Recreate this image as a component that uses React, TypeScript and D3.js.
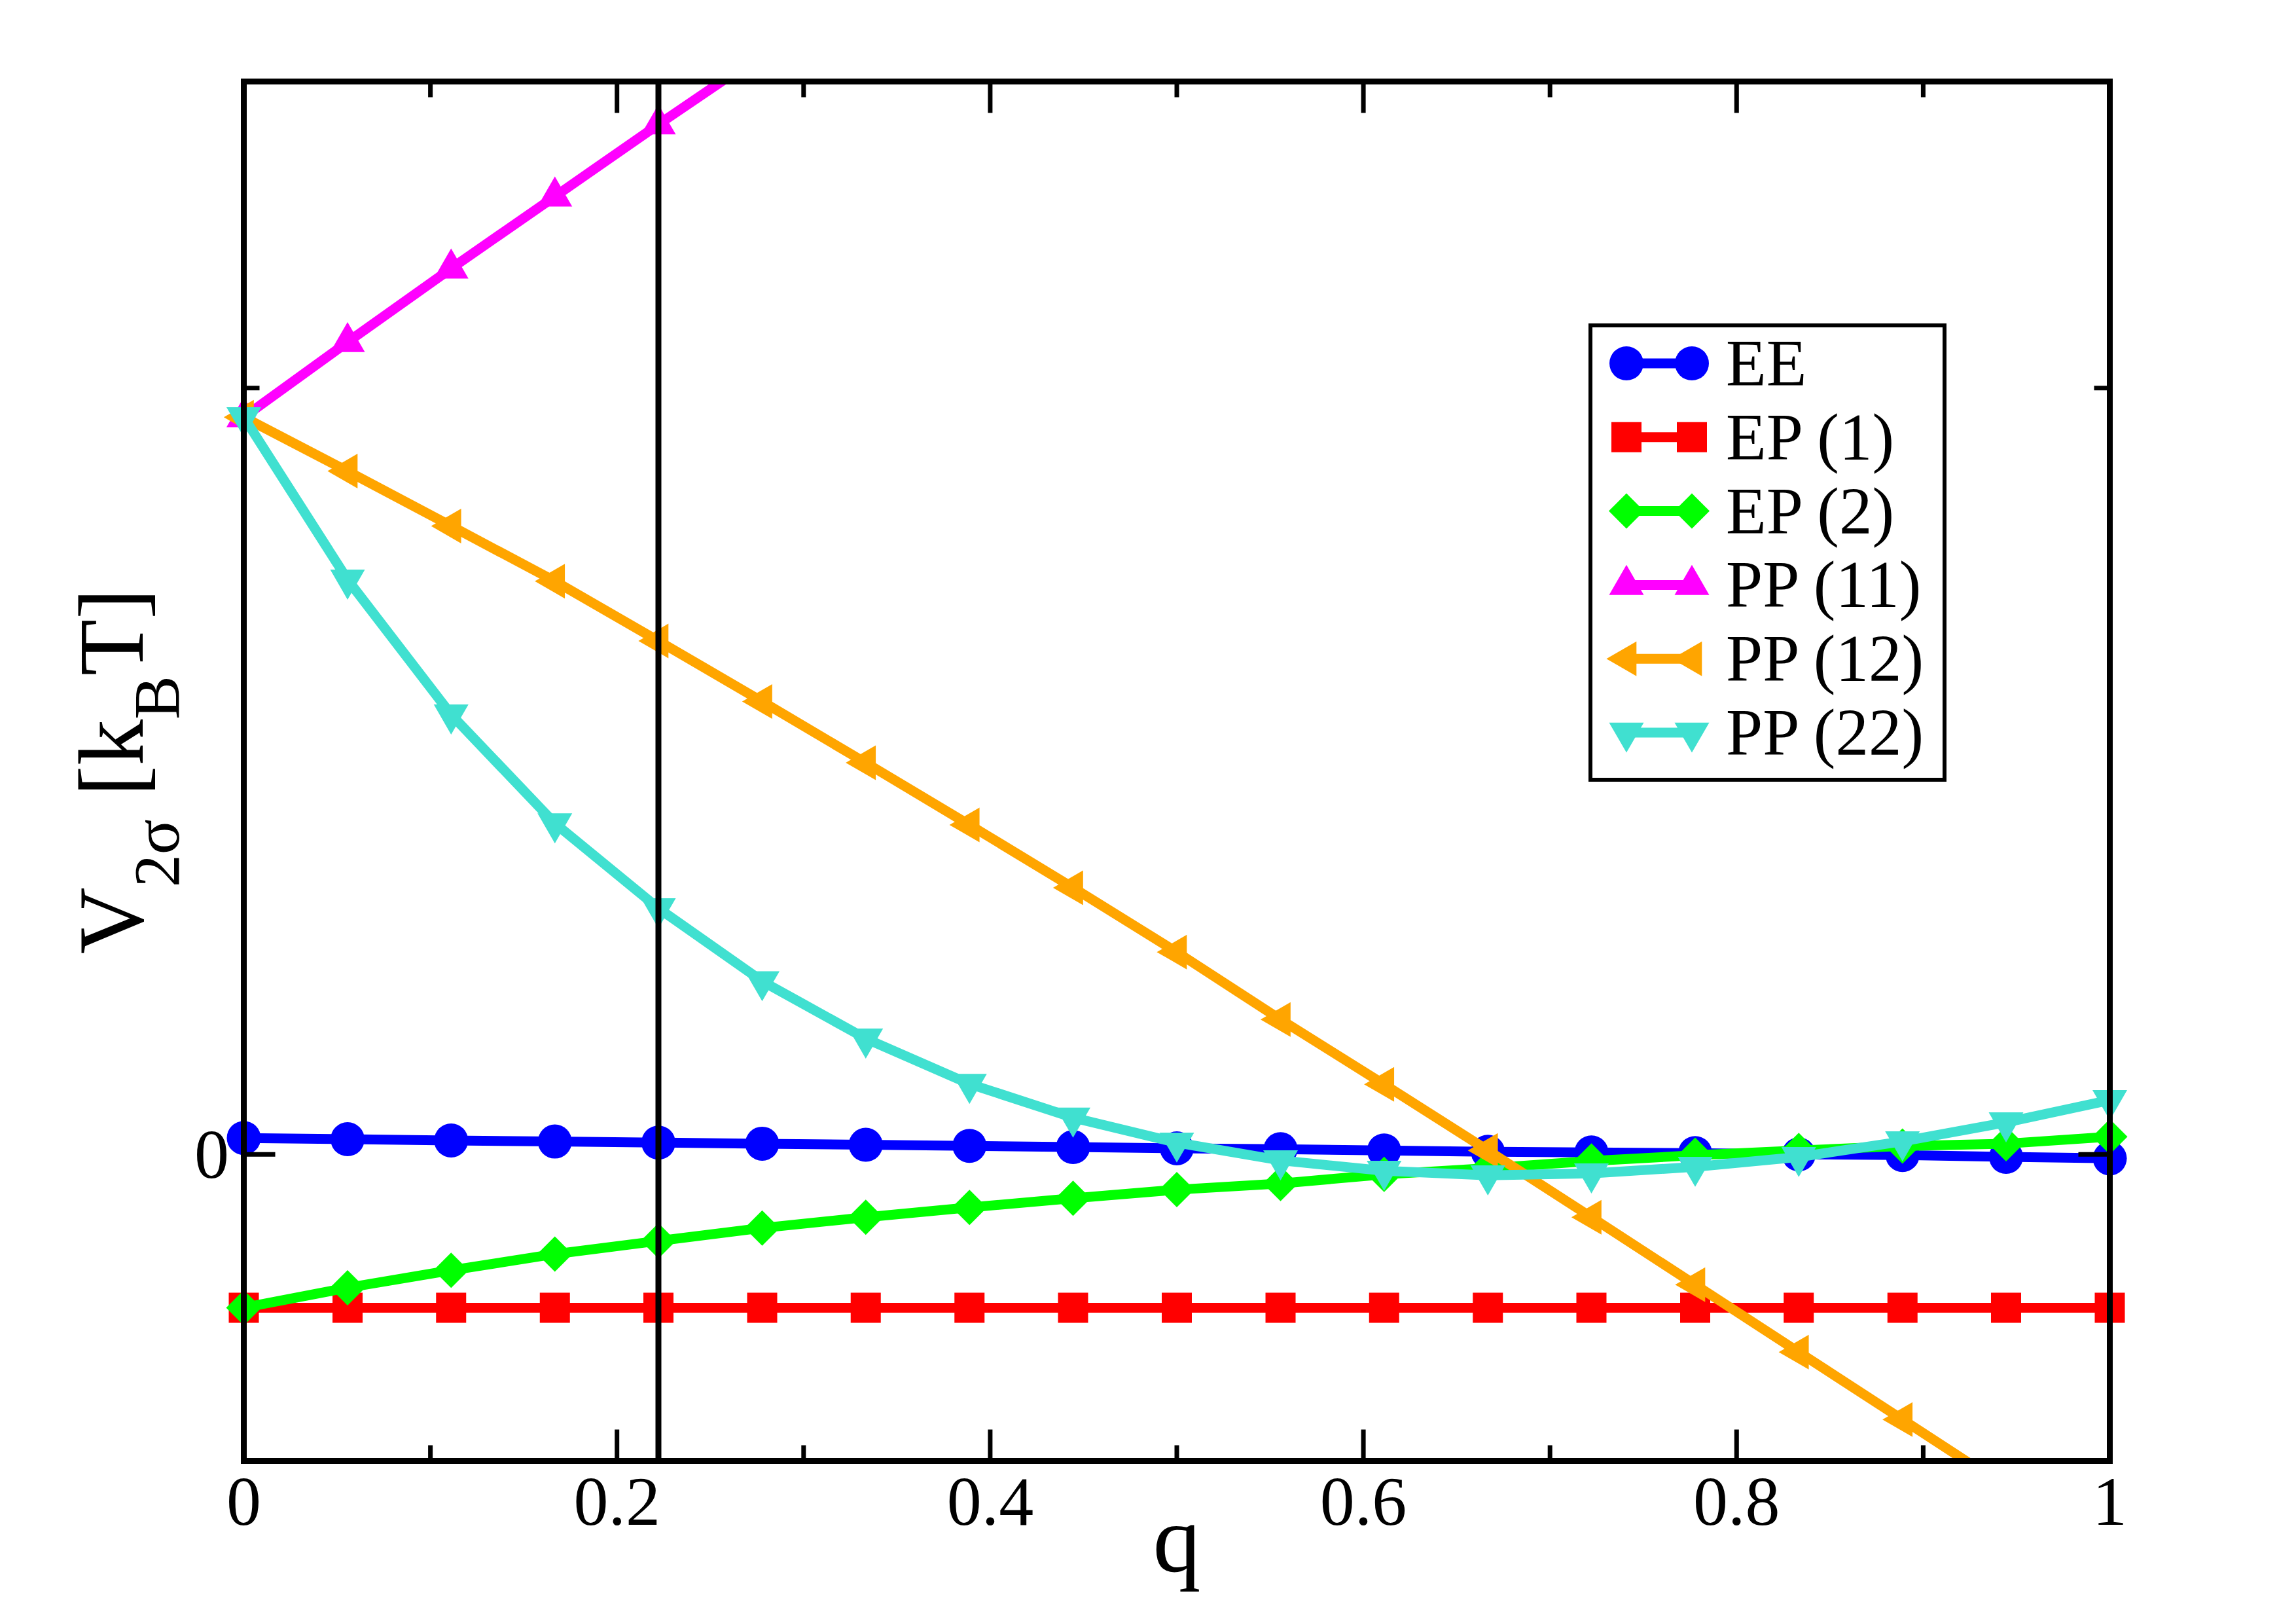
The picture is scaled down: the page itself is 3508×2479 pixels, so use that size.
import * as d3 from 'd3';

// q grid (k/18)
const qValues = [
  0, 0.0556, 0.1111, 0.1667, 0.2222, 0.2778, 0.3333, 0.3889, 0.4444, 0.5,
  0.5556, 0.6111, 0.6667, 0.7222, 0.7778, 0.8333, 0.8889, 0.9444, 1,
];

const eeValues = [
  0.0107, 0.0099, 0.0091, 0.0084, 0.0077, 0.007, 0.0063, 0.0056, 0.0048, 0.004,
  0.0034, 0.0026, 0.0017, 0.0013, 0.0009, 0.0, -0.0004, -0.0016, -0.0026,
];
const ep1Values = [
  -0.1, -0.1, -0.1, -0.1, -0.1, -0.1, -0.1, -0.1, -0.1, -0.1,
  -0.1, -0.1, -0.1, -0.1, -0.1, -0.1, -0.1, -0.1, -0.1,
];
const ep2Values = [
  -0.1, -0.087, -0.0756, -0.065, -0.0564, -0.048, -0.041, -0.0346, -0.0286, -0.023,
  -0.019, -0.013, -0.009, -0.0043, -0.0005, 0.0026, 0.0055, 0.007, 0.0115,
];
const pp11Values = [0.481, 0.53, 0.578, 0.625, 0.672, 0.718];
const pp12Values = [
  0.481, 0.4458, 0.41, 0.374, 0.335, 0.2955, 0.2555, 0.215, 0.174, 0.132,
  0.088, 0.0457, 0.0026, -0.041, -0.085, -0.129, -0.173, -0.217,
];
const pp22Values = [
  0.481, 0.375, 0.287, 0.216, 0.1606, 0.113, 0.0756, 0.046, 0.024, 0.0077,
  -0.0039, -0.0107, -0.0137, -0.0124, -0.0081, -0.0017, 0.0085, 0.0209, 0.0354,
];

const seriesNames = ['EE', 'EP (1)', 'EP (2)', 'PP (11)', 'PP (12)', 'PP (22)'];
const seriesColors = ['#0000ff', '#ff0000', '#00ff00', '#ff00ff', '#ffa500', '#40e0d0'];
const seriesSymbols = ['circle', 'square', 'diamond', 'up', 'left', 'down'];
const seriesValues = [eeValues, ep1Values, ep2Values, pp11Values, pp12Values, pp22Values];

const xMajorTicks = [0, 0.2, 0.4, 0.6, 0.8, 1];
const xTickLabels = ['0', '0.2', '0.4', '0.6', '0.8', '1'];
const xMinorTicks = [0.1, 0.3, 0.5, 0.7, 0.9];
const yMajorTicks = [0];
const yTickLabels = ['0'];
const yMinorTicks = [0.5];
const refLineQ = 0.2222;

const W = 3508;
const H = 2479;
const FONT = '"Liberation Serif", "Times New Roman", Times, serif';

const x = d3.scaleLinear().domain([0, 1]).range([372.5, 3223.5]);
const y = d3.scaleLinear().domain([-0.2, 0.7]).range([2231.5, 124.5]);

// marker shapes (centered on the data point)
function symbolPath(kind: string) {
  const side = 53;
  const r = side / Math.sqrt(3);
  switch (kind) {
    case 'circle':
      return 'M26,0A26,26 0 1,1 -26,0A26,26 0 1,1 26,0Z';
    case 'square':
      return 'M-23,-23H23V23H-23Z';
    case 'diamond':
      return 'M0,-27L27,0L0,27L-27,0Z';
    case 'up':
      return `M0,${-r}L${side / 2},${r / 2}L${-side / 2},${r / 2}Z`;
    case 'down':
      return `M0,${r}L${side / 2},${-r / 2}L${-side / 2},${-r / 2}Z`;
    case 'left':
      return `M${-r},0L${r / 2},${side / 2}L${r / 2},${-side / 2}Z`;
  }
  return '';
}

const line = d3.line<[number, number]>()
  .x(d => x(d[0]))
  .y(d => y(d[1]));

export default function App() {
  const [x0, x1] = x.range();
  const [yb, yt] = y.range();
  const [ymin, ymax] = y.domain();

  const legendTop = 555;
  const legendStep = 112.8;

  return (
    <svg
      width={W}
      height={H}
      viewBox={`0 0 ${W} ${H}`}
      style={{ position: 'absolute', left: 0, top: 0, background: '#fff', fontFamily: FONT }}
    >
      <rect x={0} y={0} width={W} height={H} fill="#fff" />
      <defs>
        <clipPath id="plot-clip">
          <rect x={x0} y={yt} width={x1 - x0} height={yb - yt} />
        </clipPath>
      </defs>

      {/* data sets: line then symbols */}
      {seriesValues.map((vals, si) => {
        const pts = vals.map((v, i) => [qValues[i], v] as [number, number]);
        return (
          <g key={seriesNames[si]}>
            <path
              d={line(pts) || ''}
              fill="none"
              stroke={seriesColors[si]}
              strokeWidth={15}
              strokeLinejoin="round"
              clipPath="url(#plot-clip)"
            />
            {pts
              .filter(p => p[1] >= ymin && p[1] <= ymax)
              .map((p, i) => (
                <path
                  key={i}
                  d={symbolPath(seriesSymbols[si])}
                  transform={`translate(${x(p[0])},${y(p[1])})`}
                  fill={seriesColors[si]}
                />
              ))}
          </g>
        );
      })}

      {/* vertical reference line */}
      <line x1={x(refLineQ)} x2={x(refLineQ)} y1={yt} y2={yb} stroke="#000" strokeWidth={9} />

      {/* ticks, all four sides, inward */}
      {xMajorTicks.map(t => (
        <g key={'xM' + t}>
          <line x1={x(t)} x2={x(t)} y1={yb} y2={yb - 48} stroke="#000" strokeWidth={7} />
          <line x1={x(t)} x2={x(t)} y1={yt} y2={yt + 48} stroke="#000" strokeWidth={7} />
        </g>
      ))}
      {xMinorTicks.map(t => (
        <g key={'xm' + t}>
          <line x1={x(t)} x2={x(t)} y1={yb} y2={yb - 24} stroke="#000" strokeWidth={7} />
          <line x1={x(t)} x2={x(t)} y1={yt} y2={yt + 24} stroke="#000" strokeWidth={7} />
        </g>
      ))}
      {yMajorTicks.map(t => (
        <g key={'yM' + t}>
          <line x1={x0} x2={x0 + 48} y1={y(t)} y2={y(t)} stroke="#000" strokeWidth={7} />
          <line x1={x1} x2={x1 - 48} y1={y(t)} y2={y(t)} stroke="#000" strokeWidth={7} />
        </g>
      ))}
      {yMinorTicks.map(t => (
        <g key={'ym' + t}>
          <line x1={x0} x2={x0 + 24} y1={y(t)} y2={y(t)} stroke="#000" strokeWidth={7} />
          <line x1={x1} x2={x1 - 24} y1={y(t)} y2={y(t)} stroke="#000" strokeWidth={7} />
        </g>
      ))}

      {/* frame */}
      <rect x={x0} y={yt} width={x1 - x0} height={yb - yt} fill="none" stroke="#000" strokeWidth={9} />

      {/* tick labels */}
      {xMajorTicks.map((t, i) => (
        <text key={'xl' + t} x={x(t)} y={2329} textAnchor="middle" fontSize={106}>
          {xTickLabels[i]}
        </text>
      ))}
      {yMajorTicks.map((t, i) => (
        <text key={'yl' + t} x={350} y={y(t) + 36} textAnchor="end" fontSize={106}>
          {yTickLabels[i]}
        </text>
      ))}

      {/* axis labels */}
      <text x={(x0 + x1) / 2} y={2400} textAnchor="middle" fontSize={146}>q</text>
      <text
        transform={`translate(218,${(yt + yb) / 2}) rotate(-90)`}
        textAnchor="middle"
        fontSize={141}
      >
        V<tspan fontSize={100} dy={55}>2σ</tspan>
        <tspan dy={-55}> [k</tspan>
        <tspan fontSize={100} dy={55}>B</tspan>
        <tspan dy={-55}>T]</tspan>
      </text>

      {/* legend */}
      <rect x={2430} y={497} width={541} height={694} fill="#fff" stroke="#000" strokeWidth={6} />
      {seriesNames.map((name, i) => {
        const cy = legendTop + i * legendStep;
        return (
          <g key={'lg' + name}>
            <line x1={2485} x2={2585} y1={cy} y2={cy} stroke={seriesColors[i]} strokeWidth={15} />
            <path d={symbolPath(seriesSymbols[i])} transform={`translate(2485,${cy})`} fill={seriesColors[i]} />
            <path d={symbolPath(seriesSymbols[i])} transform={`translate(2585,${cy})`} fill={seriesColors[i]} />
            <text x={2637} y={cy + 34} fontSize={101}>{name}</text>
          </g>
        );
      })}
    </svg>
  );
}
